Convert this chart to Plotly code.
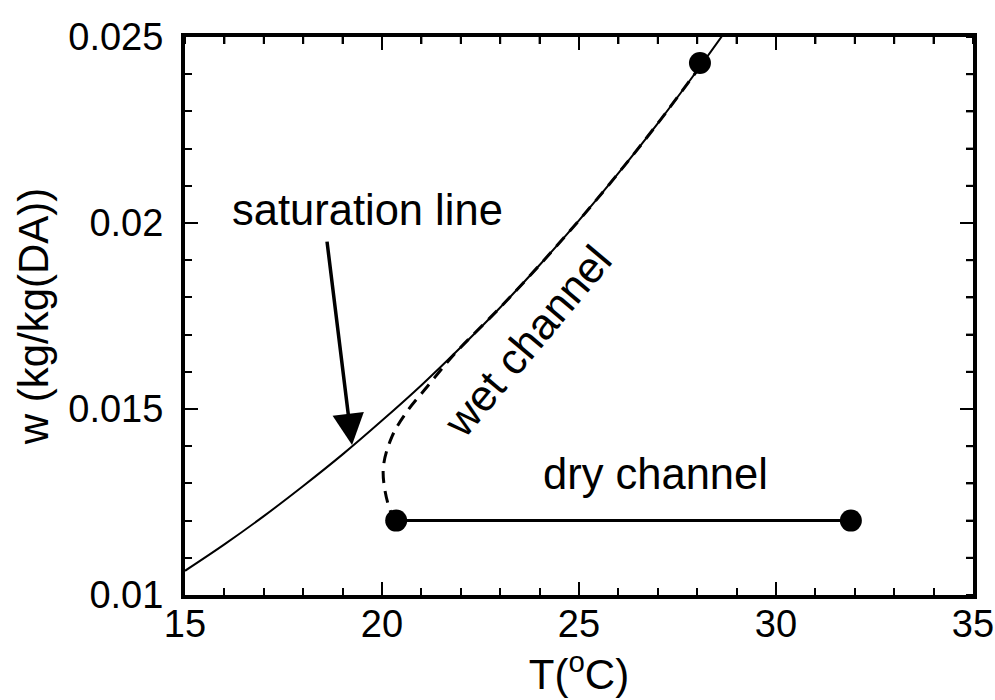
import plotly.graph_objects as go

# Saturation line
sat_T = [15, 16, 17, 18, 19, 20, 21, 22, 23, 24, 25, 26, 27, 28, 28.7]
sat_w = [0.01065, 0.01136, 0.01212, 0.01293, 0.01378, 0.01469, 0.01564, 0.01666,
         0.01773, 0.01887, 0.02007, 0.02134, 0.02268, 0.02410, 0.02513]

# Wet channel path (dashed)
wet_T = [20.36, 20.2, 20.03, 20.25, 20.66, 21.14, 21.65, 22, 23, 24, 25, 26, 27, 28.07]
wet_w = [0.0120, 0.01229, 0.01336, 0.01425, 0.01497, 0.01559, 0.01625, 0.01666,
         0.01773, 0.01887, 0.02007, 0.02134, 0.02268, 0.0242]

# Dry channel
dry_T = [20.36, 31.9]
dry_w = [0.012, 0.012]

# State points
pts_T = [20.36, 31.9, 28.07]
pts_w = [0.012, 0.012, 0.0243]

x_ticks = [15, 20, 25, 30, 35]
y_ticks = [0.01, 0.015, 0.02, 0.025]
y_ticklabels = ["0.01", "0.015", "0.02", "0.025"]
x_minor_ticks = list(range(15, 36))
y_minor_ticks = [0.010, 0.011, 0.012, 0.013, 0.014, 0.015, 0.016, 0.017,
                 0.018, 0.019, 0.020, 0.021, 0.022, 0.023, 0.024, 0.025]

FONT = "Liberation Sans, Arial, sans-serif"

fig = go.Figure()
fig.add_trace(go.Scatter(x=sat_T, y=sat_w, mode="lines",
                         line=dict(color="black", width=2, shape="spline")))
fig.add_trace(go.Scatter(x=wet_T, y=wet_w, mode="lines",
                         line=dict(color="black", width=3, dash="12px,8px", shape="spline")))
fig.add_trace(go.Scatter(x=dry_T, y=dry_w, mode="lines",
                         line=dict(color="black", width=3)))
fig.add_trace(go.Scatter(x=pts_T, y=pts_w, mode="markers",
                         marker=dict(color="black", size=22), cliponaxis=False))

fig.add_annotation(x=19.63, y=0.02035, text="saturation line", showarrow=False,
                   font=dict(size=43.5, color="black", family=FONT))
fig.add_annotation(x=26.93, y=0.01325, text="dry channel", showarrow=False,
                   font=dict(size=43.5, color="black", family=FONT))
fig.add_annotation(x=23.7, y=0.01682, text="wet channel", showarrow=False,
                   textangle=-50, font=dict(size=43.5, color="black", family=FONT))
fig.add_annotation(x=19.24, y=0.01403, ax=18.60, ay=0.01954, axref="x", ayref="y",
                   text="", showarrow=True, arrowhead=2, arrowwidth=3.5,
                   arrowsize=1.8, arrowcolor="black", standoff=0)

# Mirrored minor ticks on the top and right frame edges (pixel-length, inward)
for v in x_minor_ticks:
    fig.add_shape(type="line", xref="x", x0=v, x1=v, yref="paper", ysizemode="pixel",
                  yanchor=1, y0=0, y1=-7, line=dict(color="black", width=2))
for v in y_minor_ticks:
    fig.add_shape(type="line", yref="y", y0=v, y1=v, xref="paper", xsizemode="pixel",
                  xanchor=1, x0=0, x1=-7, line=dict(color="black", width=2))

tick_common = dict(ticks="inside", tickwidth=2, tickcolor="black",
                   showgrid=False, zeroline=False)
minor_x = dict(dtick=1, ticks="inside", ticklen=7, tickwidth=2, tickcolor="black")
minor_y = dict(dtick=0.001, ticks="inside", ticklen=7, tickwidth=2, tickcolor="black")

fig.update_layout(
    xaxis=dict(range=[15, 35], tickvals=x_ticks, ticktext=[str(v) for v in x_ticks],
               minor=minor_x, showline=True, linecolor="black", linewidth=4,
               mirror="ticks", ticklen=13,
               tickfont=dict(size=38, color="black", family=FONT),
               title=dict(text="T(<sup>o</sup>C)", font=dict(size=42, color="black", family=FONT),
                          standoff=0),
               ticklabelstandoff=-8, **tick_common),
    yaxis=dict(range=[0.01, 0.025], tickvals=y_ticks, ticktext=y_ticklabels,
               minor=minor_y, showline=True, linecolor="black", linewidth=4,
               mirror="ticks", ticklen=13,
               tickfont=dict(size=38, color="black", family=FONT),
               title=dict(text="w (kg/kg(DA))", font=dict(size=42, color="black", family=FONT),
                          standoff=8),
               ticklabelstandoff=10, **tick_common),
    width=995, height=700, showlegend=False,
    plot_bgcolor="white", paper_bgcolor="white",
    margin=dict(l=185, r=22, t=37, b=105, autoexpand=False),
)

fig.write_html("out.html")
